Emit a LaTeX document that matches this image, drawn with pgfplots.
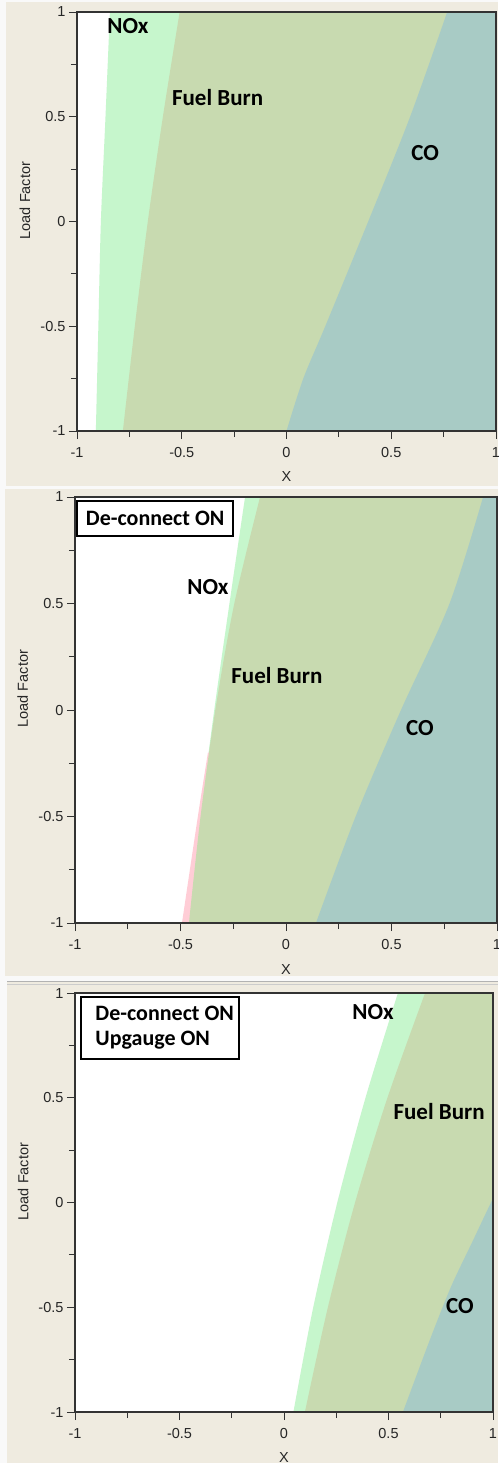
\documentclass[border=0pt]{standalone}
\usepackage{fontspec}
\setmainfont{Liberation Sans}
\newfontfamily\calb{Carlito}
\usepackage{pgfplots}
\pgfplotsset{compat=1.18}
\definecolor{beige}{HTML}{EFEBE0}
\definecolor{nox}{HTML}{C6F6CC}
\definecolor{fb}{HTML}{C8DAB0}
\definecolor{co}{HTML}{A8CBC5}
\definecolor{pinkr}{HTML}{FFCDD6}
\definecolor{frame}{HTML}{333333}
\newcommand{\tickfont}{\fontsize{14.5}{16}\selectfont}
\newcommand{\lab}{\calb\bfseries\fontsize{23}{26}\selectfont}
\newcommand{\boxf}{\calb\bfseries\fontsize{22}{25}\selectfont}
\pgfplotsset{panel/.style={
  scale only axis, anchor=south west, axis on top,
  xmin=-1,xmax=1,ymin=-1,ymax=1,
  xtick={-1,-0.5,0,0.5,1}, xticklabels={-1,-0.5,0,0.5,1},
  ytick={-1,-0.5,0,0.5,1}, yticklabels={-1,-0.5,0,0.5,1},
  minor xtick={-0.75,-0.25,0.25,0.75}, minor ytick={-0.75,-0.25,0.25,0.75},
  xtick pos=bottom, ytick pos=left, tick align=outside,
  major tick length=8pt, minor tick length=6pt,
  tick style={draw=frame, line width=0.9pt},
  axis line style={draw=frame, line width=1.9pt},
  tick label style={font=\tickfont, text=black!85},
  xticklabel style={yshift=-5pt},
  xlabel={\tickfont X}, ylabel={\tickfont Load Factor},
  every axis x label/.style={at={(axis description cs:0.5,-0.108)}, anchor=center, font=\tickfont, text=black!85},
  every axis y label/.style={at={(axis description cs:-0.124,0.55)}, anchor=center, rotate=90, font=\tickfont, text=black!85},
  axis background/.style={fill=white},
}}
\begin{document}
\begin{tikzpicture}
\fill[white!95!gray] (0pt,0pt) rectangle (498pt,-1463pt);
\fill[beige] (6pt,-2pt) rectangle (498pt,-486pt);
\fill[beige] (5pt,-489pt) rectangle (498pt,-976pt);
\fill[beige] (7pt,-981pt) rectangle (498pt,-1463pt);
\draw[gray!60, line width=1pt] (7pt,-981.5pt) -- (498pt,-981.5pt);
\draw[gray!40, line width=1pt] (7pt,-984pt) -- (498pt,-984pt);

% Panel 1
\begin{axis}[panel, at={(77pt,-431pt)}, width=419pt, height=419pt]
\addplot[draw=none, fill=nox, smooth] coordinates {(-0.910,-1) (-0.898,-0.5) (-0.886,0) (-0.864,0.5) (-0.843,1)} -- (axis cs:1.05,1) -- (axis cs:1.05,-1) -- cycle;
\addplot[draw=none, fill=fb, smooth] coordinates {(-0.781,-1) (-0.724,-0.5) (-0.662,0) (-0.590,0.5) (-0.510,1)} -- (axis cs:1.05,1) -- (axis cs:1.05,-1) -- cycle;
\addplot[draw=none, fill=co, smooth] coordinates {(0.0,-1) (0.08,-0.75) (0.185,-0.5) (0.39,0) (0.59,0.5) (0.767,1)} -- (axis cs:1.05,1) -- (axis cs:1.05,-1) -- cycle;
\node[font=\lab] at (axis cs:-0.757,0.933) {NOx};
\node[font=\lab] at (axis cs:-0.329,0.594) {Fuel Burn};
\node[font=\lab] at (axis cs:0.662,0.327) {CO};
\end{axis}

% Panel 2
\begin{axis}[panel, at={(75pt,-923pt)}, width=422pt, height=426pt]
\addplot[draw=none, fill=nox, smooth] coordinates {(-0.46,-1) (-0.405,-0.5) (-0.34,0) (-0.268,0.5) (-0.194,1)} -- (axis cs:1.05,1) -- (axis cs:1.05,-1) -- cycle;
\addplot[draw=none, fill=pinkr, smooth] coordinates {(-0.493,-1) (-0.448,-0.7) (-0.41,-0.45) (-0.37,-0.2)} -- (axis cs:1.05,-0.2) -- (axis cs:1.05,-1) -- cycle;
\addplot[draw=none, fill=fb, smooth] coordinates {(-0.460,-1) (-0.405,-0.5) (-0.335,0) (-0.245,0.5) (-0.123,1)} -- (axis cs:1.05,1) -- (axis cs:1.05,-1) -- cycle;
\addplot[draw=none, fill=co, smooth] coordinates {(0.142,-1) (0.33,-0.5) (0.545,0) (0.775,0.5) (0.934,1)} -- (axis cs:1.05,1) -- (axis cs:1.05,-1) -- cycle;
\draw[black, line width=1.3pt, fill=white] (axis cs:-0.9905,0.981) rectangle (axis cs:-0.251,0.817);
\node[font=\boxf] at (axis cs:-0.62,0.899) {De-connect ON};
\node[font=\lab] at (axis cs:-0.370,0.577) {NOx};
\node[font=\lab] at (axis cs:-0.043,0.160) {Fuel Burn};
\node[font=\lab] at (axis cs:0.635,-0.085) {CO};
\end{axis}

% Panel 3
\begin{axis}[panel, at={(75pt,-1412pt)}, width=418pt, height=419pt]
\addplot[draw=none, fill=nox, smooth] coordinates {(0.045,-1) (0.14,-0.5) (0.255,0) (0.39,0.5) (0.545,1)} -- (axis cs:1.05,1) -- (axis cs:1.05,-1) -- cycle;
\addplot[draw=none, fill=fb, smooth] coordinates {(0.100,-1) (0.21,-0.5) (0.34,0) (0.495,0.5) (0.675,1)} -- (axis cs:1.05,1) -- (axis cs:1.05,-1) -- cycle;
\addplot[draw=none, fill=co, smooth] coordinates {(0.569,-1) (0.70,-0.65) (0.80,-0.40) (0.90,-0.19) (1.0,0.02) (1.1,0.22)} -- (axis cs:1.1,-1) -- cycle;
\draw[black, line width=1.3pt, fill=white] (axis cs:-0.971,0.981) rectangle (axis cs:-0.215,0.685);
\node[font=\boxf, align=left, anchor=west] at (axis cs:-0.919,0.833) {De-connect ON\\Upgauge ON};
\node[font=\lab] at (axis cs:0.426,0.909) {NOx};
\node[font=\lab] at (axis cs:0.742,0.432) {Fuel Burn};
\node[font=\lab] at (axis cs:0.842,-0.494) {CO};
\end{axis}
\pgfresetboundingbox
\useasboundingbox (0pt,0pt) rectangle (498pt,-1463pt);
\end{tikzpicture}
\end{document}
